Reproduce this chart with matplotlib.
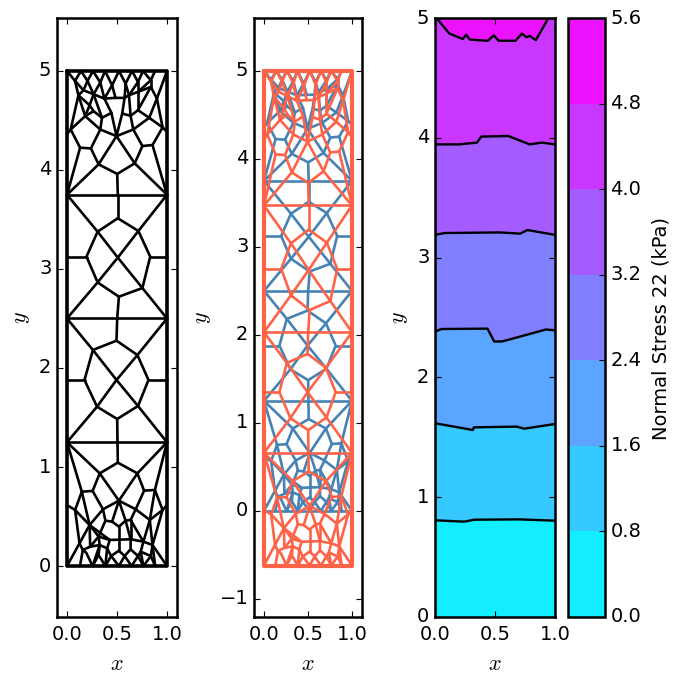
import matplotlib as mpl
mpl.use("Agg")
import matplotlib.pyplot as plt
import numpy as np
from matplotlib.cm import ScalarMappable
from matplotlib.colors import BoundaryNorm, ListedColormap

plt.style.use("classic")
mpl.rcParams.update({"font.size": 12, "axes.linewidth": 1.8, "xtick.major.size": 4.5, "ytick.major.size": 4.5,
                     "xtick.major.width": .8, "ytick.major.width": .8, "mathtext.fontset": "cm"})

# mesh nodes, reference position (mesh_x, mesh_y) and deformed height (moved_y)
mesh_x = [0, 1, .508, .508, .306, .714, .195, .832, .306, .754,              # 0
          .519, .508, 0, 1, 0, 1, .502, .495, .259, .704,                     # 10
          .175, .815, .30, .71, .502, .495, 0, 1, 0, 1,                       # 20
          .505, .316, .677, .502, .239, .131, .754, .855, .495, .037,         # 30
          .956, 0, 1, .333, .663, .182, .822, .35, .444, .552,                # 40
          .636, .266, .374, .576, .485, .71, .165, .266, .71, .838,           # 50
          .62, .114, .226, .899, .14, .26, .38, .52, .65, .76,                # 60
          .88, 0, 1, .08, .205, .333, .451, .586, .71, .838,                  # 70
          .508, .327, .704, .256, .148, .771, .879, .519, 0, .081,            # 80
          .956, 1, .36, .687, .226, .828, .384, .519, .636, .451,             # 90
          .586, .428, .636, .316, .764, .125, .232, .327, .855, .158,         # 100
          .737, .519, .401, .636, .13, .256, .384, .519, .646, .764,          # 110
          .882, 0, 1, .316, .441, .576, .71, .838, .192]                      # 120
mesh_y = [3.75, 3.75, 3.75, 3.512, 3.377, 3.384, 3.125, 3.125, 2.865, 2.808,
          2.72, 3.115, 3.125, 3.125, 2.5, 2.5, 2.5, 2.276, 2.182, 2.131,
          1.879, 1.879, 1.609, 1.616, 1.485, 1.879, 1.879, 1.879, 1.25, 1.25,
          1.25, 4.057, 4.067, 3.96, 4.218, 4.225, 4.242, 4.252, 4.342, 4.409,
          4.43, 4.362, 4.386, 4.409, 4.409, 4.544, 4.527, 4.527, 4.577, 4.57,
          4.547, 4.594, 4.721, 4.728, 4.728, 4.604, 4.805, 4.765, 4.789, 4.839,
          4.755, 4.755, 4.654, 4.721, 5, 5, 5, 5, 5, 5,
          5, 5, 5, 4.90, 4.90, 4.883, 4.856, 4.872, 4.889, 4.906,
          1.044, .936, .936, .758, .751, .761, .768, .66, .616, .566,
          .566, .616, .573, .573, .414, .465, .458, .398, .465, .448,
          .458, .263, .27, .297, .246, .229, .195, .212, .212, .162,
          .145, .155, .179, .169, 0, 0, 0, 0, 0, 0,
          0, 0, 0, .111, .101, .101, .101, .101, .135]
moved_y = [3.47, 3.47, 3.47, 3.196, 3.04, 3.048, 2.75, 2.75, 2.45, 2.385,
           2.283, 2.738, 2.75, 2.75, 2.03, 2.03, 2.03, 1.784, 1.681, 1.626,
           1.349, 1.349, 1.053, 1.061, .918, 1.349, 1.349, 1.349, .66, .66,
           .66, 3.846, 3.858, 3.727, 4.043, 4.051, 4.072, 4.084, 4.195, 4.277,
           4.302, 4.22, 4.248, 4.277, 4.277, 4.441, 4.421, 4.421, 4.483, 4.474,
           4.446, 4.503, 4.659, 4.667, 4.667, 4.515, 4.762, 4.713, 4.741, 4.803,
           4.70, 4.70, 4.577, 4.659, 5, 5, 5, 5, 5, 5,
           5, 5, 5, 4.877, 4.877, 4.856, 4.823, 4.844, 4.864, 4.885,
           .449, .338, .338, .156, .149, .159, .166, .056, .011, -.04,
           -.04, .011, -.033, -.033, -.196, -.144, -.151, -.212, -.144, -.161,
           -.151, -.351, -.343, -.316, -.368, -.385, -.42, -.403, -.403, -.454,
           -.472, -.461, -.437, -.447, -.62, -.62, -.62, -.62, -.62, -.62,
           -.62, -.62, -.62, -.506, -.517, -.517, -.517, -.517, -.482]

border = [71, 72, 122, 121, 71]
chains = [
    [0, 2, 1], [14, 16, 15], [28, 30, 29], [2, 3], [3, 4, 6, 8, 10, 9, 7, 5, 3],
    [0, 4, 11, 9, 15], [1, 5, 11, 8, 14], [6, 12], [7, 13], [10, 16],
    [16, 17], [17, 18, 20, 22, 24, 23, 21, 19, 17], [14, 18, 25, 23, 29], [15, 19, 25, 22, 28],
    [20, 26], [21, 27], [24, 30],
    [2, 33], [31, 33, 32], [0, 31, 38, 32, 1], [31, 34, 35, 0], [32, 36, 37, 1], [34, 43], [36, 44],
    [41, 39, 35], [42, 40, 37], [45, 43, 38, 44, 46], [39, 45], [40, 46],
    [43, 47, 48, 38, 49, 50, 44], [45, 51, 47], [46, 55, 50], [45, 61, 39], [63, 40], [63, 46], [63, 72], [63, 59],
    [48, 52, 54, 53, 49], [54, 76], [56, 57, 52], [53, 60, 58, 59], [56, 61], [71, 73, 56], [73, 64], [73, 61],
    [51, 62, 57], [62, 45], [55, 58], [61, 62], [57, 47], [60, 50], [59, 55],
    [64, 74, 65, 75, 66, 76, 67, 77, 68, 78, 69, 79, 70], [79, 59], [74, 56], [75, 52], [77, 53], [78, 58],
    [74, 57], [75, 57], [76, 52], [77, 60], [78, 60], [79, 58],
    [30, 80], [81, 80, 82], [28, 81, 87, 82, 29], [81, 83, 84, 28], [82, 85, 86, 29],
    [84, 89, 88], [86, 90, 91], [83, 92], [85, 93], [94, 92, 87, 93, 95], [89, 94], [90, 95],
    [92, 96, 99, 87, 100, 98, 93], [99, 97, 100], [97, 111], [84, 94], [86, 95],
    [94, 105, 121], [94, 103], [96, 103, 101, 102, 104, 95], [98, 102], [95, 108, 90], [89, 105],
    [105, 109], [101, 112, 107, 103], [107, 106, 94], [106, 109, 114], [109, 128, 115],
    [115, 123, 116, 124, 117, 125, 118, 126, 119, 127, 120], [123, 107], [124, 112], [124, 111, 125],
    [125, 113, 102], [126, 113], [126, 110, 104], [127, 110], [127, 108, 122],
    [116, 112], [115, 107], [119, 110], [120, 108], [103, 106], [104, 108], [98, 104], [100, 102], [94, 101],
]

# contour lines of panel 3
levels = [0, .8, 1.6, 2.4, 3.2, 4.0, 4.8, 5.6]
line_x = [[0, .245, .325, .70, 1],
          [0, .315, .325, .68, .745, 1],
          [0, .055, .437, .493, .56, .925, 1],
          [0, .08, .54, .71, .77, 1],
          [0, .2, .35, .385, .61, .79, .89, 1],
          [0, .02, .12, .23, .26, .29, .44, .49, .53, .67, .725, .76, .79, .84, .945, 1]]
line_y = [[.807, .796, .812, .815, .804],
          [1.617, 1.561, 1.583, 1.589, 1.572, 1.611],
          [2.382, 2.404, 2.407, 2.30, 2.30, 2.40, 2.393],
          [3.19, 3.205, 3.21, 3.20, 3.23, 3.19],
          [3.945, 3.945, 3.96, 4.01, 4.015, 3.945, 3.96, 3.945],
          [5, 4.99, 4.87, 4.825, 4.86, 4.82, 4.81, 4.855, 4.81, 4.81, 4.87, 4.84, 4.85, 4.815, 5, 5]]

blue = "#4682b4"
red = "#ff6347"
W, H = 673.0, 675.0


def make_axes(left, right, top=18, bottom=617):
    return fig.add_axes([left / W, 1 - bottom / H, (right - left) / W, (bottom - top) / H])


def draw_mesh(ax, ys, color, lw=1.9, border_lw=2.6):
    xs = np.array(mesh_x)
    ys = np.array(ys)
    for c in chains:
        ax.plot(xs[c], ys[c], color=color, lw=lw, solid_capstyle="round", solid_joinstyle="round")
    ax.plot(xs[border], ys[border], color=color, lw=border_lw, solid_capstyle="round")


fig = plt.figure(figsize=(W / 100, H / 100), dpi=100, facecolor="white")

ax1 = make_axes(57, 177)
draw_mesh(ax1, mesh_y, "black")
ax1.set_xlim(-.1, 1.1)
ax1.set_ylim(-.515, 5.535)
ax1.set_yticks(range(6))

ax2 = make_axes(254, 362)
draw_mesh(ax2, mesh_y, blue, border_lw=1.9)
draw_mesh(ax2, moved_y, red, border_lw=3.0)
ax2.set_xlim(-.114, 1.114)
ax2.set_ylim(-1.205, 5.6)
ax2.set_yticks(range(-1, 6))

mids = [(a + b) / 2 / levels[-1] for a, b in zip(levels[:-1], levels[1:])]
band_colors = plt.cm.cool(mids)

ax3 = make_axes(435, 555)
ax3.set_facecolor(band_colors[-1])
for i in range(len(line_x) - 1, -1, -1):
    ax3.fill(line_x[i] + [1, 0], line_y[i] + [0, 0], color=band_colors[i], lw=0)
for xs, ys in zip(line_x, line_y):
    ax3.plot(xs, ys, color="black", lw=1.7)
ax3.set_xlim(0, 1)
ax3.set_ylim(0, 5)
ax3.set_yticks(range(6))

for ax in [ax1, ax2, ax3]:
    ax.set_xticks([0, .5, 1])
    ax.set_xticklabels(["0.0", "0.5", "1.0"])
    ax.set_xlabel("$x$", fontsize=16, labelpad=7)
    ax.set_ylabel("$y$", fontsize=16)
    ax.tick_params(labelsize=14)
    ax.tick_params(axis="x", pad=6)

cax = make_axes(568, 605)
mappable = ScalarMappable(norm=BoundaryNorm(levels, len(mids)), cmap=ListedColormap(band_colors))
cbar = fig.colorbar(mappable, cax=cax, ticks=levels)
cbar.set_ticklabels(["%.1f" % v for v in levels])
cbar.set_label("Normal Stress 22 (kPa)", fontsize=14)
cbar.ax.yaxis.set_label_coords(2.27, .481)
cbar.ax.tick_params(labelsize=14)
cbar.outline.set_linewidth(1.8)

fig.savefig("out.png", dpi=100, facecolor="white")
